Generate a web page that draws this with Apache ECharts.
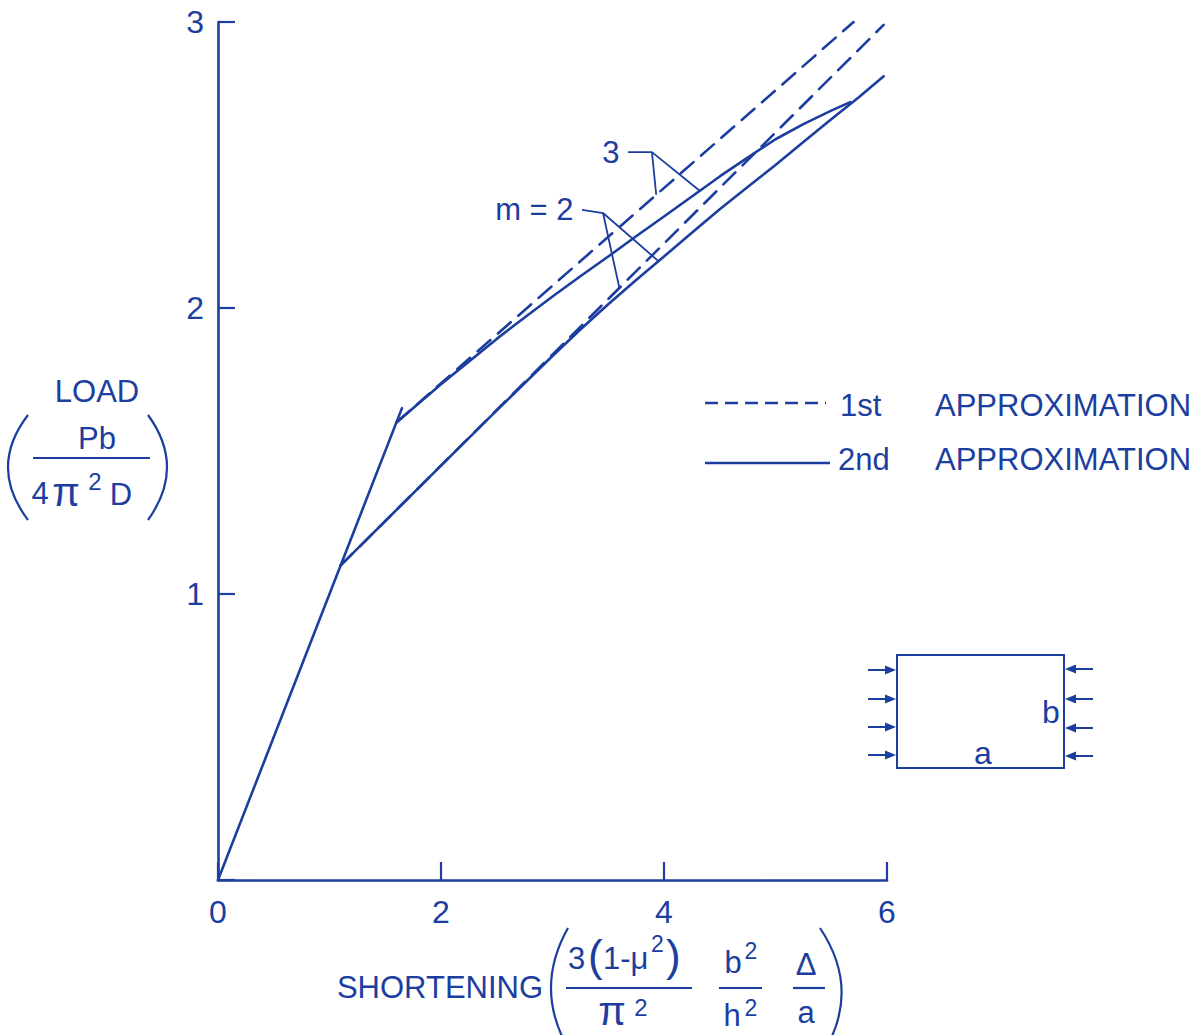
<!DOCTYPE html>
<html>
<head>
<meta charset="utf-8">
<script src="https://cdn.jsdelivr.net/npm/echarts@6/dist/echarts.min.js"></script>
<style>
  html, body { margin: 0; padding: 0; background: #ffffff; }
  #chart { width: 1204px; height: 1035px; }
</style>
</head>
<body>
<div id="chart"></div>
<script>
// ---- data (load vs. shortening, nondimensional) ----
const xTicks = [0, 2, 4, 6];
const yTicks = [1, 2, 3];

// pre-buckling branch, slope 1
const preBuckling = [[0, 0], [1.65, 1.65]];

// 1st approximation (straight post-buckling lines)
const m2First = [[1.1, 1.1], [5.97, 2.99]];
const m3First = [[1.6, 1.6], [5.7, 3.0]];

// 2nd approximation (curved post-buckling paths)
const m2Second = [[1.1, 1.1], [2.0, 1.449], [2.5, 1.642], [3.0, 1.832], [3.25, 1.925],
                  [3.5, 2.013], [3.75, 2.098], [4.0, 2.18], [4.25, 2.263], [4.5, 2.345],
                  [4.75, 2.423], [5.0, 2.50], [5.25, 2.58], [5.5, 2.66], [5.75, 2.738], [5.97, 2.81]];
const m3Second = [[1.6, 1.6], [2.0, 1.733], [2.5, 1.892], [2.75, 1.967], [3.0, 2.04],
                  [3.25, 2.111], [3.5, 2.18], [3.75, 2.251], [4.0, 2.32], [4.25, 2.39],
                  [4.5, 2.46], [4.75, 2.526], [5.0, 2.59], [5.25, 2.643], [5.5, 2.69], [5.67, 2.72]];

// leader lines tying the mode labels to their curves
const leaderM2 = [[3.265, 2.343], [3.453, 2.332], [3.6, 2.07], [3.453, 2.332], [3.95, 2.164]];
const leaderM3 = [[3.677, 2.545], [3.892, 2.545], [3.93, 2.396], [3.892, 2.545], [4.32, 2.41]];
const leaderText = ['m = 2', '3'];

// ---- styling ----
const INK = '#1c3e9e';
const FONT = '"Liberation Sans", Arial, sans-serif';

function curve(data, dashed, width) {
  return {
    type: 'line', data: data, symbol: 'none', silent: true, smooth: false,
    lineStyle: { color: INK, width: width || 2.6, type: dashed ? [17, 10] : 'solid',
                 cap: 'round', join: 'round' },
    z: 3
  };
}

function leader(data, text) {
  const items = data.map((p, i) => i === 0 ? {
    value: p,
    label: { show: true, position: 'left', distance: 8, formatter: text,
             fontSize: 31, fontFamily: FONT, color: INK }
  } : { value: p });
  return {
    type: 'line', data: items, silent: true, smooth: false,
    symbol: 'circle', symbolSize: 1, showSymbol: true, showAllSymbol: true,
    itemStyle: { color: 'rgba(0,0,0,0)' },
    label: { show: false },
    labelLayout: { hideOverlap: false },
    lineStyle: { color: INK, width: 1.8 }, z: 4
  };
}

function txt(x, y, s, size, align, extra) {
  return Object.assign({
    type: 'text', x: x, y: y, silent: true,
    style: { text: s, fontSize: size || 31, fontFamily: FONT, fill: INK,
             align: align || 'center', verticalAlign: 'middle' }
  }, extra || {});
}
function seg(x1, y1, x2, y2, w, dash) {
  return { type: 'line', silent: true, shape: { x1, y1, x2, y2 },
           style: { stroke: INK, lineWidth: w || 2.2, lineDash: dash || null } };
}
function paren(x1, y1, cx, cy, x2, y2) {
  return { type: 'bezierCurve', silent: true,
           shape: { x1, y1, x2, y2, cpx1: cx, cpy1: cy },
           style: { stroke: INK, lineWidth: 2.2, fill: null } };
}
function arrow(x1, x2, y) {
  const dir = x2 > x1 ? 1 : -1;
  return [
    seg(x1, y, x2 - dir * 8, y, 2),
    { type: 'polygon', silent: true,
      shape: { points: [[x2, y], [x2 - dir * 11, y - 4.5], [x2 - dir * 11, y + 4.5]] },
      style: { fill: INK } }
  ];
}

// annotation graphics: axis titles, legend key, plate sketch
const graphics = [
  // vertical axis title
  txt(97, 391, 'LOAD'),
  txt(97, 438, 'Pb'),
  seg(33, 458, 150, 458),
  txt(40, 493, '4'),
  txt(66, 492, 'π', 40),
  txt(95, 481, '2', 24),
  txt(121, 494, 'D'),
  paren(28, 415, -12, 467, 28, 520),
  paren(148, 415, 186, 467, 148, 520),

  // horizontal axis title
  txt(440, 987, 'SHORTENING'),
  paren(568, 928, 534, 988, 568, 1048),
  paren(820, 928, 860, 988, 826, 1048),
  txt(568, 958, '3', 31, 'left'),
  txt(588, 955, '(', 44, 'left'),
  txt(603, 958, '1-μ', 31, 'left'),
  txt(651, 944, '2', 23, 'left'),
  txt(666, 955, ')', 44, 'left'),
  seg(566, 988, 692, 988),
  txt(612, 1011, 'π', 40),
  txt(641, 1007, '2', 24),
  txt(733, 962, 'b'),
  txt(751, 951, '2', 23),
  seg(719, 988, 762, 988),
  txt(732, 1015, 'h'),
  txt(751, 1008, '2', 23),
  txt(806, 964, 'Δ'),
  seg(793, 988, 825, 988),
  txt(806, 1012, 'a'),

  // legend key
  seg(705, 403, 826, 403, 2.4, [13, 7]),
  txt(840, 405, '1st', 31, 'left'),
  txt(935, 405, 'APPROXIMATION', 31, 'left'),
  seg(705, 463, 830, 463, 2.4),
  txt(838, 459, '2nd', 31, 'left'),
  txt(935, 459, 'APPROXIMATION', 31, 'left'),

  // plate under edge compression
  { type: 'rect', silent: true, shape: { x: 897, y: 655, width: 167, height: 113 },
    style: { stroke: INK, lineWidth: 2, fill: null } },
  ...arrow(868, 896, 670), ...arrow(868, 896, 699), ...arrow(868, 896, 727), ...arrow(868, 896, 755),
  ...arrow(1093, 1065, 669), ...arrow(1093, 1065, 699), ...arrow(1093, 1065, 728), ...arrow(1093, 1065, 756),
  txt(1051, 712, 'b', 32),
  txt(983, 753, 'a', 32)
];

const chart = echarts.init(document.getElementById('chart'), null, { renderer: 'svg' });
chart.setOption({
  animation: false,
  backgroundColor: '#ffffff',
  grid: { left: 218, top: 22, width: 669, height: 858 },
  xAxis: {
    type: 'value', min: 0, max: 6, interval: 2,
    axisLine: { show: true, onZero: false, lineStyle: { color: INK, width: 2.6 } },
    axisTick: { show: true, inside: true, length: 18, lineStyle: { color: INK, width: 2.2 } },
    axisLabel: { show: true, margin: 16, fontSize: 32, fontFamily: FONT, color: INK,
                 formatter: v => (xTicks.indexOf(v) >= 0 ? String(v) : '') },
    splitLine: { show: false }
  },
  yAxis: {
    type: 'value', min: 0, max: 3, interval: 1,
    axisLine: { show: true, onZero: false, lineStyle: { color: INK, width: 2.6 } },
    axisTick: { show: true, inside: true, length: 17, lineStyle: { color: INK, width: 2.2 } },
    axisLabel: { show: true, margin: 14, fontSize: 32, fontFamily: FONT, color: INK,
                 formatter: v => (yTicks.indexOf(v) >= 0 ? String(v) : '') },
    splitLine: { show: false }
  },
  series: [
    curve(preBuckling, false),
    curve(m2First, true),
    curve(m3First, true),
    curve(m2Second, false),
    curve(m3Second, false),
    leader(leaderM2, leaderText[0]),
    leader(leaderM3, leaderText[1])
  ],
  graphic: graphics
});
</script>
</body>
</html>
